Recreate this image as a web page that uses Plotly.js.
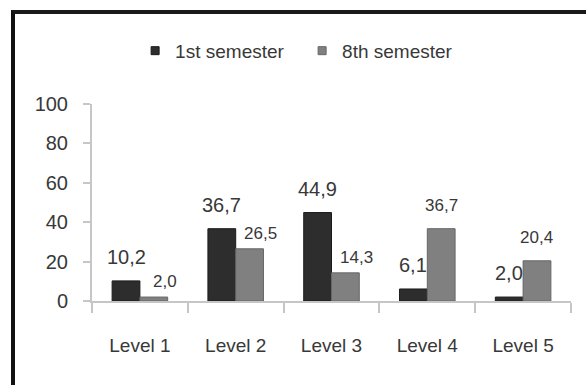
<!DOCTYPE html>
<html>
<head>
<meta charset="utf-8">
<script src="https://cdn.plot.ly/plotly-3.0.1.min.js"></script>
<style>
  html, body { margin: 0; padding: 0; background: #fff; }
  #wrap { position: relative; width: 586px; height: 385px; overflow: hidden; }
  #chart { position: absolute; left: 0; top: 0; width: 586px; height: 385px; }
  #frame {
    position: absolute; left: 11px; top: 10px; right: -10px; bottom: -10px;
    border-left: 4px solid #111; border-top: 4px solid #1a1a1a;
    pointer-events: none;
  }
</style>
</head>
<body>
<div id="wrap">
  <div id="chart"></div>
  <div id="frame"></div>
</div>
<script>
// Share of students per level (%)
const levels = ['Level 1', 'Level 2', 'Level 3', 'Level 4', 'Level 5'];
const firstSemester = [10.2, 36.7, 44.9, 6.1, 2.0];
const eighthSemester = [2.0, 26.5, 14.3, 36.7, 20.4];
const seriesNames = ['1st semester', '8th semester'];
const yTicks = [0, 20, 40, 60, 80, 100];

const FONT = '"Liberation Sans", Arial, sans-serif';
const TEXT = '#383838';
const AXIS = '#c6c6c6';
const DARK = '#2d2d2d', DARK_EDGE = '#1b1b1b';
const LIGHT = '#808080', LIGHT_EDGE = '#666666';

const BARGAP = 0.42;
const half = (1 - BARGAP) / 4;   // offset of each bar centre from the category centre

const fmt = v => v.toFixed(1).replace('.', ',');

const traces = [
  {
    type: 'bar', x: levels, y: firstSemester, name: seriesNames[0],
    marker: { color: DARK, line: { color: DARK_EDGE, width: 1 } },
    showlegend: false, hoverinfo: 'x+y'
  },
  {
    type: 'bar', x: levels, y: eighthSemester, name: seriesNames[1],
    marker: { color: LIGHT, line: { color: LIGHT_EDGE, width: 1 } },
    showlegend: false, hoverinfo: 'x+y'
  },
  // legend entries with small square keys
  {
    type: 'scatter', mode: 'markers', x: [null], y: [null], name: seriesNames[0],
    marker: { symbol: 'square', size: 8, color: DARK, line: { color: DARK_EDGE, width: 1 } },
    hoverinfo: 'skip'
  },
  {
    type: 'scatter', mode: 'markers', x: [null], y: [null], name: seriesNames[1],
    marker: { symbol: 'square', size: 8, color: LIGHT, line: { color: LIGHT_EDGE, width: 1 } },
    hoverinfo: 'skip'
  }
];

// value labels: 1st semester centred above its bar; the 8th semester label
// moves right when the taller neighbour label would crowd it
const annotations = [];
levels.forEach((lv, i) => {
  annotations.push({
    x: i - half, y: firstSemester[i], xref: 'x', yref: 'y',
    text: fmt(firstSemester[i]), showarrow: false,
    xanchor: 'center', yanchor: 'bottom', yshift: 11,
    font: { family: FONT, size: 20, color: TEXT }
  });
  const crowded = firstSemester[i] > eighthSemester[i];
  annotations.push({
    x: i + half, y: eighthSemester[i], xref: 'x', yref: 'y',
    text: fmt(eighthSemester[i]), showarrow: false,
    xanchor: 'center', yanchor: 'bottom',
    xshift: crowded ? 11 : 0, yshift: crowded ? 4 : 12,
    font: { family: FONT, size: 17, color: TEXT }
  });
});

const layout = {
  width: 586, height: 385,
  margin: { l: 92, r: 15, t: 104, b: 84 },
  paper_bgcolor: 'rgba(0,0,0,0)', plot_bgcolor: 'rgba(0,0,0,0)',
  font: { family: FONT, size: 19, color: TEXT },
  barmode: 'group', bargap: BARGAP, bargroupgap: 0,
  showlegend: true,
  legend: {
    orientation: 'h', x: 0.09, xanchor: 'left', y: 1.27, yanchor: 'middle',
    font: { family: FONT, size: 19, color: TEXT },
    itemwidth: 30, entrywidth: 122, entrywidthmode: 'pixels',
    traceorder: 'normal', bgcolor: 'rgba(0,0,0,0)'
  },
  xaxis: {
    type: 'category', showline: true, linecolor: AXIS, linewidth: 2,
    ticks: 'outside', tickson: 'boundaries', ticklen: 10, tickcolor: AXIS, tickwidth: 2,
    ticklabelstandoff: 26, showgrid: false, zeroline: false,
    tickfont: { family: FONT, size: 19, color: TEXT }, fixedrange: true
  },
  yaxis: {
    range: [0, 100], tickvals: yTicks, ticktext: yTicks.map(String),
    showline: true, linecolor: AXIS, linewidth: 2,
    ticks: 'outside', ticklen: 7, tickcolor: AXIS, tickwidth: 2,
    ticklabelstandoff: 11, showgrid: false, zeroline: false,
    tickfont: { family: FONT, size: 20, color: TEXT }, fixedrange: true
  },
  annotations: annotations
};

Plotly.newPlot('chart', traces, layout, { displayModeBar: false, staticPlot: true });
</script>
</body>
</html>
